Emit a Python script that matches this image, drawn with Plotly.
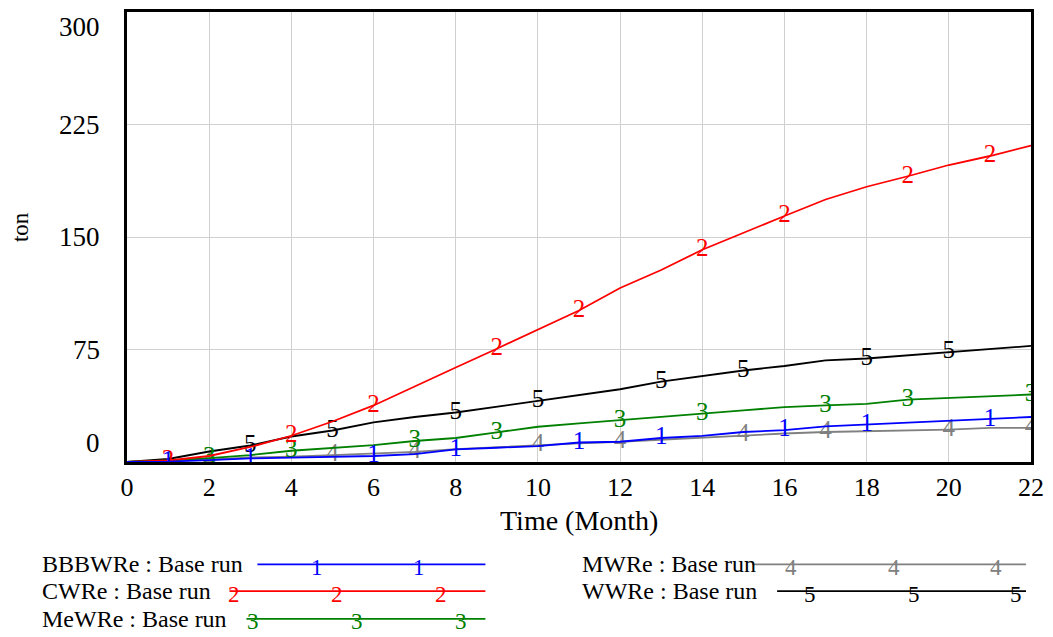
import plotly.graph_objects as go

time = list(range(23))
bbbwre = [0, 0.3, 1.3, 2.4, 2.9, 3.5, 4.0, 5.3, 8.4, 9.5, 10.6, 13.0, 13.5, 16.0, 17.4, 20.0, 21.2, 23.8, 25.0, 26.0, 27.1, 28.4, 30.0]
cwre = [0, 1.0, 4.0, 10.0, 17.5, 27.0, 37.7, 50.5, 63.0, 75.5, 88.0, 101.0, 116.0, 128.0, 141.5, 153.0, 164.0, 175.0, 183.5, 190.5, 198.0, 204.0, 211.0]
mewre = [0, 1.0, 2.6, 4.6, 7.5, 9.3, 11.2, 14.0, 16.0, 19.8, 23.5, 25.8, 27.8, 30.0, 32.3, 34.4, 36.6, 37.7, 38.8, 41.6, 42.6, 43.7, 45.0]
mwre = [0, 0.5, 1.5, 3.0, 3.5, 4.6, 5.7, 6.8, 8.6, 10.0, 11.2, 12.4, 13.5, 15.0, 16.3, 17.9, 19.0, 20.0, 20.5, 21.2, 21.6, 22.7, 22.7]
wwre = [0, 2.0, 7.0, 11.0, 17.0, 21.0, 26.4, 30.0, 33.0, 37.0, 40.6, 45.0, 48.5, 53.6, 57.5, 61.0, 64.0, 67.7, 69.0, 71.0, 73.5, 75.0, 77.4]

series = [
    ("MWRe : Base run", mwre, "#808080", "4", [2, 5, 7, 10, 12, 15, 17, 20, 22]),
    ("WWRe : Base run", wwre, "#000000", "5", [3, 5, 8, 10, 13, 15, 18, 20]),
    ("MeWRe : Base run", mewre, "#008000", "3", [2, 4, 7, 9, 12, 14, 17, 19, 22]),
    ("CWRe : Base run", cwre, "#FF0000", "2", [1, 4, 6, 9, 11, 14, 16, 19, 21]),
    ("BBBWRe : Base run", bbbwre, "#0000FF", "1", [1, 3, 6, 8, 11, 13, 16, 18, 21]),
]
yticks = [0, 75, 150, 225, 300]
xticks = list(range(0, 23, 2))

FONT = "Liberation Serif, Times New Roman, serif"
W, H = 1053, 637
L, R, T, B = 127, 18, 9, 175
PW, PH = W - L - R, H - T - B


def px(x):
    return (x - L) / PW


def py(y):
    return (H - B - y) / PH


fig = go.Figure()
for name, vals, col, num, idx in series:
    fig.add_trace(go.Scatter(x=time, y=vals, mode="lines", line=dict(color=col, width=1.8),
                             showlegend=False, hoverinfo="skip"))
    fig.add_trace(go.Scatter(x=[time[i] for i in idx], y=[vals[i] for i in idx], mode="text",
                             text=[num] * len(idx), textposition="middle center",
                             textfont=dict(family=FONT, size=25, color=col),
                             showlegend=False, hoverinfo="skip"))

annotations = []
# y tick labels (Vensim style: end labels shifted inward)
ylab_pos = {0: 12.5, 75: 75, 150: 150, 225: 225, 300: 290}
for v in yticks:
    annotations.append(dict(x=px(102), xref="paper", y=ylab_pos[v], yref="y", text=str(v),
                            showarrow=False, xanchor="right", yanchor="middle",
                            font=dict(family=FONT, size=27, color="black")))
annotations.append(dict(x=px(581), y=py(521), xref="paper", yref="paper", text="Time (Month)",
                        showarrow=False, xanchor="center", yanchor="middle",
                        font=dict(family=FONT, size=28, color="black")))
annotations.append(dict(x=px(20), y=py(225), xref="paper", yref="paper", text="ton", textangle=-90,
                        showarrow=False, xanchor="center", yanchor="middle",
                        font=dict(family=FONT, size=23, color="black")))

# custom legend
legend_items = [
    ("BBBWRe : Base run", "#0000FF", "1", 40, 565, 258, 487, [318, 420]),
    ("CWRe : Base run", "#FF0000", "2", 40, 592, 230, 487, [234, 338, 442]),
    ("MeWRe : Base run", "#008000", "3", 40, 620, 247, 487, [254, 358, 462]),
    ("MWRe : Base run", "#808080", "4", 582, 565, 755, 1030, [794, 897, 1000]),
    ("WWRe : Base run", "#000000", "5", 582, 592, 780, 1030, [813, 917, 1020]),
]
shapes = []
for text, col, num, tx, ty, x0, x1, nums in legend_items:
    annotations.append(dict(x=px(tx), y=py(ty), xref="paper", yref="paper", text=text,
                            showarrow=False, xanchor="left", yanchor="middle",
                            font=dict(family=FONT, size=24, color="black")))
    shapes.append(dict(type="line", xref="paper", yref="paper", x0=px(x0), x1=px(x1),
                       y0=py(ty), y1=py(ty), line=dict(color=col, width=1.8)))
    for nx in nums:
        annotations.append(dict(x=px(nx), y=py(ty + 3), xref="paper", yref="paper", text=num,
                                showarrow=False, xanchor="center", yanchor="middle",
                                font=dict(family=FONT, size=23, color=col)))

fig.update_layout(
    width=W, height=H,
    margin=dict(l=L, r=R, t=T, b=B),
    paper_bgcolor="white", plot_bgcolor="white",
    annotations=annotations, shapes=shapes,
    xaxis=dict(range=[0, 22], tickvals=xticks, showgrid=True, gridcolor="#d0d0d0", gridwidth=1,
               showline=True, linecolor="black", linewidth=3, mirror=True, zeroline=False,
               ticks="", tickfont=dict(family=FONT, size=26, color="black")),
    yaxis=dict(range=[0, 300], tickvals=yticks, showticklabels=False, showgrid=True,
               gridcolor="#d0d0d0", gridwidth=1, showline=True, linecolor="black", linewidth=3,
               mirror=True, zeroline=False, ticks=""),
)
fig.write_html("out.html", config={"displayModeBar": False},
               post_script="document.body.style.margin='0px';")
